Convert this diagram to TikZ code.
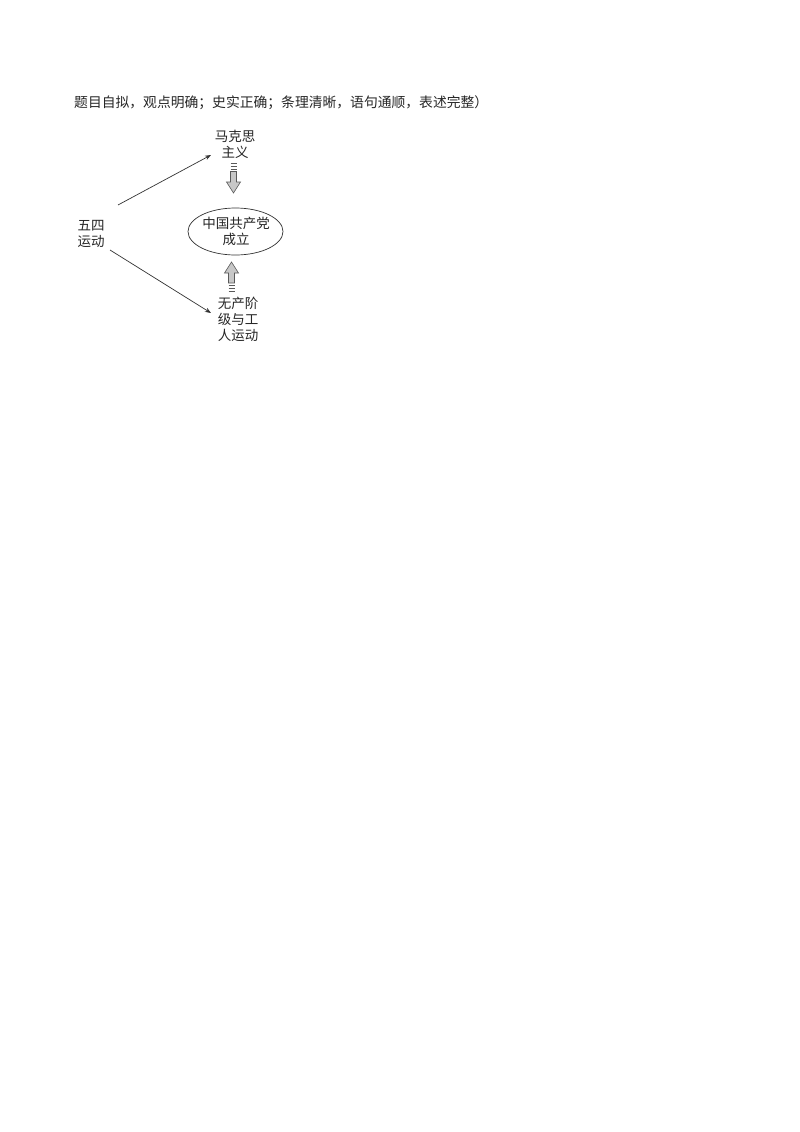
\documentclass[tikz,border=0pt]{standalone}
\usepackage{fontspec}
\newfontfamily\cjk{Noto Sans CJK SC}
\usetikzlibrary{arrows.meta,calc,shapes.geometric}
\tikzset{
  lbl/.style={font=\cjk\fontsize{13.5}{16}\selectfont, align=center, inner sep=0pt, text=black!85},
  thin/.style={draw=black!80, line width=0.7pt, -{Stealth[length=6pt,width=4.5pt]}},
  fat/.style={draw=black!65, fill=black!22, line width=0.6pt},
  bar/.style={draw=black!65, line width=0.9pt}
}
\begin{document}
\begin{tikzpicture}[x=1pt,y=-1pt]
\useasboundingbox (0,0) rectangle (800,1132);
\fill[white] (0,0) rectangle (800,1132);
\node[lbl, anchor=west, font=\cjk\fontsize{13.8}{16}\selectfont] (head) at (74,103) {题目自拟，观点明确；史实正确；条理清晰，语句通顺，表述完整）};
\node[lbl] (marx) at (235,144.5) {马克思\\主义};
\node[lbl] (wusi) at (91,233.5) {五四\\运动};
\node[lbl] (worker) at (238,319.5) {无产阶\\级与工\\人运动};
\node[draw=black!80, line width=0.7pt, ellipse, minimum width=95pt, minimum height=47pt, inner sep=0pt] (party) at (235.5,231.5) {};
\node[lbl] (ptext) at (236,231.5) {中国共产党\\成立};
% thin arrows
\coordinate (a1s) at (118,205);
\coordinate (a1e) at (211,155);
\coordinate (a2s) at (110,250);
\coordinate (a2e) at (211,313);
\draw[thin] (a1s) -- (a1e);
\draw[thin] (a2s) -- (a2e);
% down fat arrow (marx -> party)
\coordinate (d) at (233.5,0);
\foreach \yy in {163.5,166.5,169.5} \draw[bar] ($(d)+(-3,\yy)$) -- ($(d)+(3,\yy)$);
\draw[fat] ($(d)+(-3,171.5)$) -- ($(d)+(3,171.5)$) -- ($(d)+(3,182)$) -- ($(d)+(7,182)$) -- ($(d)+(0,193)$) -- ($(d)+(-7,182)$) -- ($(d)+(-3,182)$) -- cycle;
% up fat arrow (worker -> party)
\coordinate (u) at (231.5,0);
\draw[fat] ($(u)+(0,262)$) -- ($(u)+(7,273)$) -- ($(u)+(3,273)$) -- ($(u)+(3,283)$) -- ($(u)+(-3,283)$) -- ($(u)+(-3,273)$) -- ($(u)+(-7,273)$) -- cycle;
\foreach \yy in {285,288,291} \draw[bar] ($(u)+(-3,\yy)$) -- ($(u)+(3,\yy)$);
\end{tikzpicture}
\end{document}
